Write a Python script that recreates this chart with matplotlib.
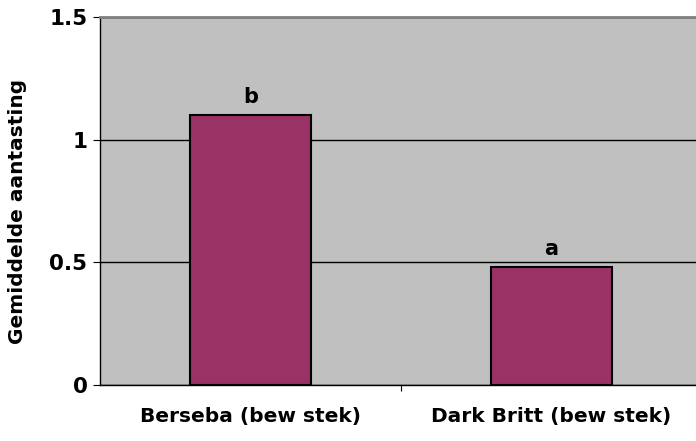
import matplotlib.pyplot as plt

categories = ['Berseba (bew stek)', 'Dark Britt (bew stek)']
values = [1.10, 0.48]
letters = ['b', 'a']
yticks = [0, 0.5, 1, 1.5]

plt.rcParams['font.family'] = ['DejaVu Sans']
plt.rcParams['font.weight'] = 'bold'

fig = plt.figure(figsize=(6.96, 4.41), dpi=100)
ax = fig.add_axes([100/696, 56/441, 602/696, 368/441])
ax.set_facecolor('#c0c0c0')

x = range(len(categories))
ax.bar(x, values, width=0.4, color='#993366', edgecolor='black', linewidth=1.5, zorder=3)
for i, (v, l) in enumerate(zip(values, letters)):
    ax.text(i, v + 0.035, l, ha='center', va='bottom', fontsize=15, fontweight='bold')

ax.set_xlim(-0.5, 1.5)
ax.set_ylim(0, 1.5)
ax.set_yticks(yticks)
ax.set_yticklabels(['0', '0.5', '1', '1.5'], fontsize=15.5, fontweight='bold')
ax.yaxis.grid(True, color='black', linewidth=1)
ax.set_axisbelow(True)

ax.set_xticks([0.5])
ax.set_xticklabels([''])
ax.tick_params(axis='x', length=4, direction='out')
ax.tick_params(axis='y', length=5, direction='out', pad=4)
for i, c in enumerate(categories):
    ax.text(i, -0.09, c, ha='center', va='top', fontsize=14.5, fontweight='bold',
            transform=ax.transData)

fig.text(18/696, 1 - 211/441, 'Gemiddelde aantasting', rotation=90, ha='center', va='center',
         fontsize=14.5, fontweight='bold')

ax.spines['top'].set_color('#808080')
ax.spines['top'].set_linewidth(2)
ax.spines['right'].set_visible(False)
ax.spines['left'].set_linewidth(1)
ax.spines['bottom'].set_linewidth(1)

fig.savefig('out.png', dpi=100)
